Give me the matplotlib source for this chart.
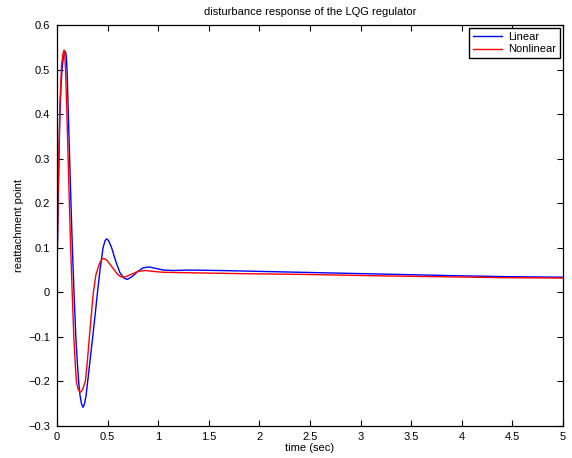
import matplotlib
matplotlib.use("Agg")
import matplotlib.pyplot as plt

plt.rcParams['font.family'] = ['Liberation Sans', 'DejaVu Sans']

# Linear response (blue)
t_lin = [0.0, 0.01, 0.02, 0.03, 0.04, 0.05, 0.06, 0.072, 0.085, 0.092, 0.100,
         0.112, 0.125, 0.138, 0.152, 0.168, 0.186, 0.200, 0.214, 0.228, 0.242,
         0.257, 0.272, 0.287, 0.303, 0.328, 0.353, 0.377, 0.40, 0.425, 0.455,
         0.475, 0.49, 0.51, 0.54, 0.58, 0.62, 0.66, 0.695, 0.74, 0.80, 0.85,
         0.91, 0.97, 1.05, 1.15, 1.3, 1.6, 1.8, 2.2, 2.8, 3.4, 4.0, 4.5, 5.0]
y_lin = [0.05, 0.18, 0.31, 0.41, 0.465, 0.50, 0.522, 0.536, 0.54, 0.53, 0.495,
         0.40, 0.30, 0.20, 0.10, 0.0, -0.10, -0.155, -0.20, -0.232, -0.25,
         -0.258, -0.25, -0.232, -0.20, -0.15, -0.10, -0.05, 0.0, 0.05, 0.10,
         0.116, 0.12, 0.116, 0.10, 0.07, 0.045, 0.032, 0.029, 0.035, 0.047,
         0.055, 0.057, 0.054, 0.050, 0.049, 0.050, 0.049, 0.048, 0.046, 0.043,
         0.040, 0.037, 0.035, 0.034]

# Nonlinear response (red)
t_nl = [0.0, 0.01, 0.02, 0.03, 0.045, 0.058, 0.07, 0.077, 0.085, 0.098, 0.11,
        0.122, 0.135, 0.15, 0.166, 0.180, 0.192, 0.205, 0.22, 0.234, 0.248,
        0.262, 0.28, 0.30, 0.32, 0.34, 0.359, 0.385, 0.42, 0.44, 0.455, 0.475,
        0.50, 0.55, 0.60, 0.64, 0.68, 0.74, 0.80, 0.87, 0.95, 1.05, 1.3, 1.8,
        2.5, 3.2, 3.8, 4.4, 5.0]
y_nl = [0.04, 0.20, 0.33, 0.43, 0.51, 0.535, 0.544, 0.532, 0.495, 0.40, 0.30,
        0.20, 0.10, 0.0, -0.10, -0.16, -0.20, -0.215, -0.222, -0.224, -0.22,
        -0.212, -0.20, -0.155, -0.10, -0.048, 0.0, 0.04, 0.065, 0.073, 0.076,
        0.075, 0.07, 0.055, 0.040, 0.034, 0.035, 0.041, 0.047, 0.049, 0.047,
        0.045, 0.044, 0.042, 0.040, 0.037, 0.035, 0.033, 0.032]

x_ticks = [0, 0.5, 1, 1.5, 2, 2.5, 3, 3.5, 4, 4.5, 5]
x_ticklabels = ["0", "0.5", "1", "1.5", "2", "2.5", "3", "3.5", "4", "4.5", "5"]
y_ticks = [-0.3, -0.2, -0.1, 0, 0.1, 0.2, 0.3, 0.4, 0.5, 0.6]
y_ticklabels = ["\u22120.3", "\u22120.2", "\u22120.1", "0", "0.1", "0.2", "0.3", "0.4", "0.5", "0.6"]

fig = plt.figure(figsize=(5.72, 4.58), dpi=100)
ax = fig.add_axes([57/572, 1-426/458, (563-57)/572, (426-25)/458])

ax.plot(t_lin, y_lin, color='#0000ff', lw=1.0, label='Linear')
ax.plot(t_nl, y_nl, color='#ff0000', lw=1.0, label='Nonlinear')

ax.set_xlim(0, 5)
ax.set_ylim(-0.3, 0.6)
ax.set_xticks(x_ticks)
ax.set_xticklabels(x_ticklabels)
ax.set_yticks(y_ticks)
ax.set_yticklabels(y_ticklabels)
ax.tick_params(direction='in', length=4, width=0.8, labelsize=8,
               top=True, right=True, colors='black')
ax.tick_params(axis='x', pad=4)
ax.tick_params(axis='y', pad=5)
for s in ax.spines.values():
    s.set_linewidth(0.9)

ax.set_title('disturbance response of the LQG regulator', fontsize=8, pad=7.5)
ax.set_xlabel('time (sec)', fontsize=8, labelpad=1)
ax.set_ylabel('reattachment point', fontsize=8, labelpad=3)

leg = ax.legend(loc='upper right', fontsize=8, frameon=True, fancybox=False,
                edgecolor='black', framealpha=1, borderpad=0.35,
                handlelength=2.6, handletextpad=0.6, labelspacing=0.25,
                borderaxespad=0.25)
leg.get_frame().set_linewidth(1.0)

fig.savefig('out.png', dpi=100)
